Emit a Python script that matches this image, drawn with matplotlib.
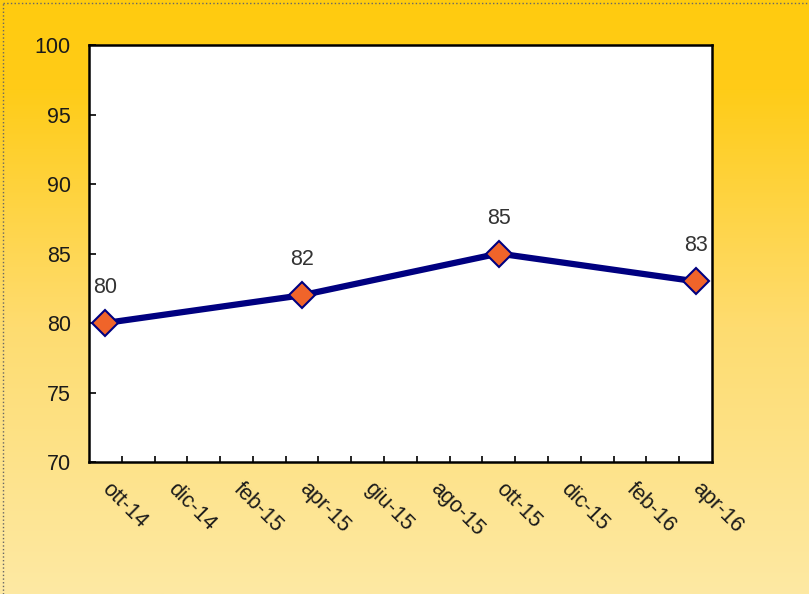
import numpy as np
import matplotlib
matplotlib.use("Agg")
import matplotlib.pyplot as plt
from matplotlib.colors import LinearSegmentedColormap
from matplotlib.lines import Line2D

plt.rcParams['font.family'] = ['Liberation Sans', 'DejaVu Sans']

# monthly categories on the date axis (ott-14 .. apr-16)
months = ['ott-14', 'nov-14', 'dic-14', 'gen-15', 'feb-15', 'mar-15', 'apr-15',
          'mag-15', 'giu-15', 'lug-15', 'ago-15', 'set-15', 'ott-15', 'nov-15',
          'dic-15', 'gen-16', 'feb-16', 'mar-16', 'apr-16']
tick_months = months[::2]

# observed values
point_months = ['ott-14', 'apr-15', 'ott-15', 'apr-16']
point_values = [80, 82, 85, 83]

fs = 15.5

fig = plt.figure(figsize=(8.09, 5.94), dpi=100)

# gradient background
bg = fig.add_axes([0, 0, 1, 1], zorder=0)
cmap = LinearSegmentedColormap.from_list(
    'bg', [(0.0, '#ffcb0f'), (0.15, '#ffcc18'), (0.55, '#fedc70'), (1.0, '#fde9a3')])
grad = np.linspace(0, 1, 256).reshape(-1, 1)
bg.imshow(grad, aspect='auto', cmap=cmap, extent=[0, 1, 0, 1], origin='upper')
bg.set_axis_off()

# dotted outer border (left and top)
fig.add_artist(Line2D([0.004, 0.004], [0, 0.995], transform=fig.transFigure,
                      color='#666666', lw=1, ls=':'))
fig.add_artist(Line2D([0.004, 1], [0.995, 0.995], transform=fig.transFigure,
                      color='#666666', lw=1, ls=':'))

ax = fig.add_axes([0.110, 0.2222, 0.770, 0.7020], zorder=1)
ax.set_facecolor('white')

x = [months.index(m) for m in point_months]
ax.plot(x, point_values, color='#000080', lw=4.5, marker='D', markersize=13.5,
        markerfacecolor='#f0642a', markeredgecolor='#000080', markeredgewidth=1.5,
        zorder=3, clip_on=False)

for xi, v in zip(x, point_values):
    ax.annotate(str(v), (xi, v), xytext=(0, 18), textcoords='offset points',
                ha='center', va='bottom', fontsize=fs, color='#333333')

ax.set_xlim(-0.5, len(months) - 0.5)
ax.set_ylim(70, 100)
ax.set_yticks(np.arange(70, 101, 5))

ax.set_xticks([months.index(m) for m in tick_months])
ax.set_xticklabels(tick_months, rotation=-45, ha='left', va='center',
                   rotation_mode='anchor', fontsize=fs, color='#1a1a1a')
ax.set_xticks(np.arange(0.5, len(months) - 1, 1), minor=True)
ax.tick_params(axis='x', which='major', length=0, pad=17)
ax.tick_params(axis='x', which='minor', direction='in', length=4, width=1.2)
ax.tick_params(axis='y', direction='in', length=5, width=1.2, pad=13,
               labelsize=fs, labelcolor='#1a1a1a')

for s in ax.spines.values():
    s.set_linewidth(1.8)
    s.set_color('black')

fig.savefig('out.png', dpi=100)
